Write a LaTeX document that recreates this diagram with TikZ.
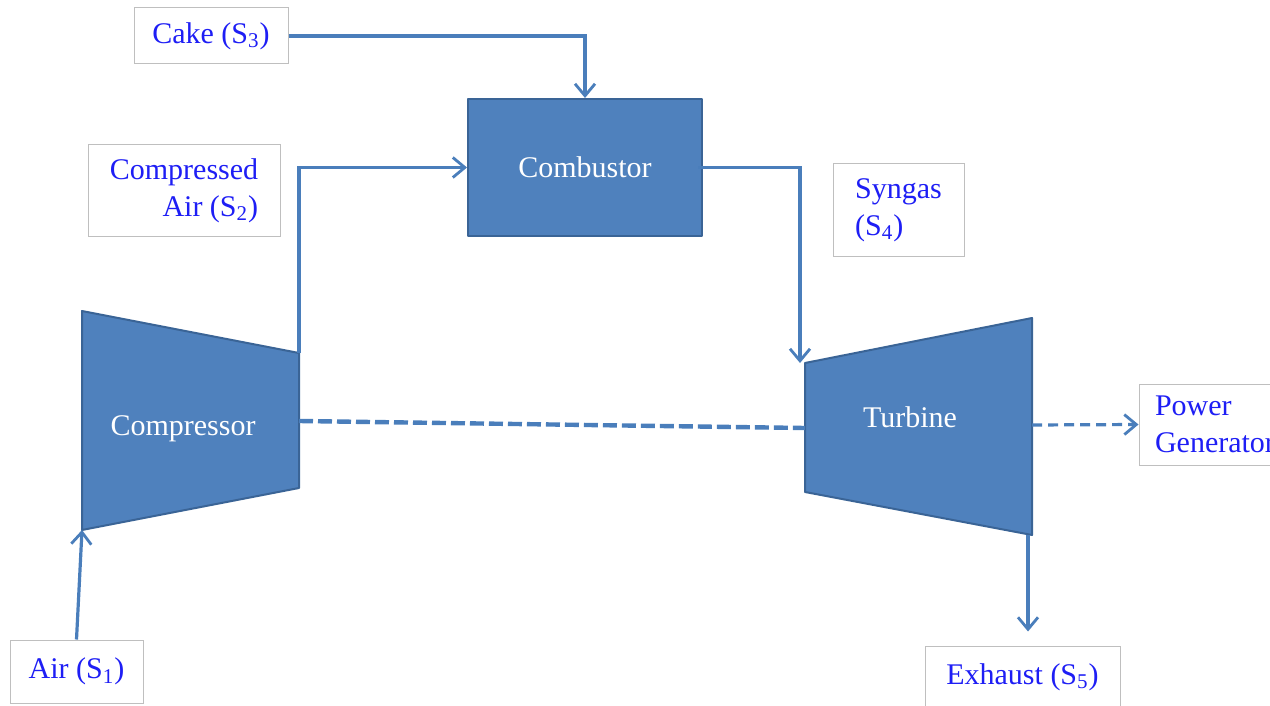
\documentclass[tikz,border=0pt]{standalone}
\usepackage{fontspec}
\setmainfont{Liberation Serif}
\usetikzlibrary{arrows.meta}
\definecolor{unitblue}{HTML}{4F81BD}
\definecolor{unitedge}{HTML}{3A6496}
\definecolor{flowblue}{HTML}{4A7EBB}
\definecolor{labelblue}{HTML}{1E1EF5}

\begin{document}
\begin{tikzpicture}[x=0.5pt,y=-0.5pt,
    flow/.style={draw=flowblue,line width=1.6pt,-{Straight Barb[length=6pt,width=10pt,line width=1.4pt]}},
    shaft/.style={draw=flowblue,line width=2.2pt,dash pattern=on 7pt off 2.5pt},
    unit/.style={fill=unitblue,draw=unitedge,line width=1pt,line join=round},
    unitname/.style={text=white,font=\fontsize{15}{18.5}\selectfont},
    tag/.style={draw=black!25,fill=white,line width=0.5pt,text=labelblue,font=\fontsize{15}{18.5}\selectfont}]
    \useasboundingbox (0,0) rectangle (1270,706);
    \clip (0,0) rectangle (1270,706);
    % compressor and turbine
    \coordinate (c1) at (82,311); \coordinate (c2) at (299,353);
    \coordinate (c3) at (299,488); \coordinate (c4) at (82,530);
    \coordinate (t1) at (805,363); \coordinate (t2) at (1032,318);
    \coordinate (t3) at (1032,535); \coordinate (t4) at (805,492);
    \draw[unit] (c1)--(c2)--(c3)--(c4)--cycle;
    \draw[unit] (t1)--(t2)--(t3)--(t4)--cycle;
    \node[unitname] (comp) at (183,429) {Compressor};
    \node[unitname] (turb) at (910,417) {Turbine};
    \node[unit,unitname,minimum width=117pt,minimum height=68.5pt] (comb) at (585,167.5) {Combustor};
    % stream labels
    \node[tag,minimum width=77pt,minimum height=28pt] (cake) at (211,36) {Cake (S\textsubscript{3})};
    \node[tag,align=right,minimum width=96pt,minimum height=45.5pt] (cair) at (184,190.5) {Compressed\\Air (S\textsubscript{2})};
    \node[tag,align=left,minimum width=65.5pt,minimum height=46pt] (syn) at (898.5,210) {Syngas\\(S\textsubscript{4})};
    \node[tag,align=left,minimum width=76pt,minimum height=40.5pt] (pow) at (1215,424.5) {Power\\Generator};
    \node[tag,minimum width=97.5pt,minimum height=31pt] (exh) at (1022.5,677) {Exhaust (S\textsubscript{5})};
    \node[tag,minimum width=66.5pt,minimum height=31.5pt] (air) at (76.5,671.5) {Air (S\textsubscript{1})};
    % streams
    \draw[flow] (cake.east) -| (comb.north);
    \draw[flow] (c2) |- (comb.west);
    \draw[flow] ([xshift=-2.5pt]comb.east) -| ([xshift=-2.5pt]t1);
    \draw[flow] (air.north) -- (c4);
    \coordinate (texh) at (1028,535);
    \draw[flow,shorten >=7pt] (texh) -- (texh |- exh.north);
    % shaft
    \coordinate (cshaft) at (299,421);
    \coordinate (tshaft) at (805,428);
    \draw[shaft] (cshaft) -- (tshaft);
    \coordinate (tout) at (1032,425);
    \draw[flow,dash pattern=on 5pt off 3pt] (tout) -- (pow.west);
\end{tikzpicture}
\end{document}
